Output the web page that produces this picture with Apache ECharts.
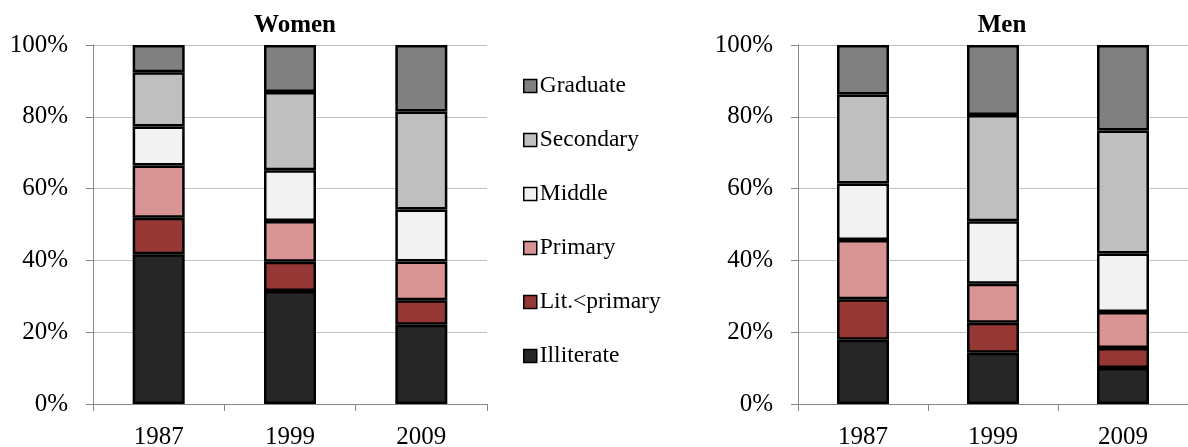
<!DOCTYPE html>
<html>
<head>
<meta charset="utf-8">
<script src="https://cdn.jsdelivr.net/npm/echarts@6/dist/echarts.min.js"></script>
<style>html,body{margin:0;padding:0;background:#fff}#c{width:1188px;height:447px}</style>
</head>
<body>
<div id="c"></div>
<script>
var years = ['1987', '1999', '2009'];
var seriesNames = ['Illiterate', 'Lit.<primary', 'Primary', 'Middle', 'Secondary', 'Graduate'];
var legendOrder = ['Graduate', 'Secondary', 'Middle', 'Primary', 'Lit.<primary', 'Illiterate'];
var colors = ['#262626', '#953735', '#d99594', '#f2f2f2', '#bfbfbf', '#808080'];
var yTicks = [0, 20, 40, 60, 80, 100];

// Women shares (%), per level, for 1987, 1999, 2009
var womenIlliterate = [41.7, 31.5, 22.1];
var womenLitPrimary = [10.2, 8.1, 6.8];
var womenPrimary = [14.5, 11.4, 10.8];
var womenMiddle = [10.9, 14.1, 14.5];
var womenSecondary = [15.1, 21.8, 27.3];
var womenGraduate = [7.6, 13.1, 18.5];

// Men shares (%)
var menIlliterate = [17.9, 14.3, 10.0];
var menLitPrimary = [11.3, 8.3, 5.6];
var menPrimary = [16.5, 10.9, 10.0];
var menMiddle = [15.7, 17.4, 16.3];
var menSecondary = [24.8, 29.6, 34.3];
var menGraduate = [13.8, 19.5, 23.8];

var womenData = [womenIlliterate, womenLitPrimary, womenPrimary, womenMiddle, womenSecondary, womenGraduate];
var menData = [menIlliterate, menLitPrimary, menPrimary, menMiddle, menSecondary, menGraduate];

var FONT = '"Liberation Serif", "Times New Roman", serif';

function xAxis(gi) {
  return {
    type: 'category', gridIndex: gi, data: years, boundaryGap: true,
    axisLine: { show: true, lineStyle: { color: '#868686', width: 1 } },
    axisTick: { show: true, alignWithLabel: false, length: 7, inside: false, lineStyle: { color: '#868686' } },
    axisLabel: { color: '#000', fontFamily: FONT, fontSize: 25, margin: 21 },
    splitLine: { show: false }
  };
}
function yAxis(gi) {
  return {
    type: 'value', gridIndex: gi, min: yTicks[0], max: yTicks[yTicks.length - 1], interval: 20,
    axisLine: { show: true, lineStyle: { color: '#868686', width: 1 } },
    axisTick: { show: true, length: 7, lineStyle: { color: '#868686' } },
    axisLabel: { color: '#000', fontFamily: FONT, fontSize: 25, margin: 25, formatter: '{value}%' },
    splitLine: { show: true, lineStyle: { color: '#c0c0c0', width: 1 } }
  };
}

var series = [];
[womenData, menData].forEach(function (set, gi) {
  set.forEach(function (vals, i) {
    series.push({
      type: 'bar', name: seriesNames[i], xAxisIndex: gi, yAxisIndex: gi,
      stack: 'g' + gi, data: vals, barWidth: 52,
      itemStyle: { color: colors[i], borderColor: '#000', borderWidth: 2.5 },
      emphasis: { disabled: true }
    });
  });
});

var chart = echarts.init(document.getElementById('c'), null, { renderer: 'canvas' });
chart.setOption({
  animation: false,
  backgroundColor: '#fff',
  title: [
    { text: 'Women', left: 290, top: 8, textAlign: 'center',
      textStyle: { fontFamily: FONT, fontSize: 25, fontWeight: 'bold', color: '#000' } },
    { text: 'Men', left: 997, top: 8, textAlign: 'center',
      textStyle: { fontFamily: FONT, fontSize: 25, fontWeight: 'bold', color: '#000' } }
  ],
  legend: {
    orient: 'vertical', left: 518, top: 69, data: legendOrder,
    itemWidth: 13, itemHeight: 13, itemGap: 30, icon: 'rect',
    textStyle: { fontFamily: FONT, fontSize: 23.5, color: '#000', lineHeight: 24, padding: [0, 0, 0, -2] },
    itemStyle: { borderColor: '#000', borderWidth: 1.5 },
    selectedMode: false
  },
  grid: [
    { left: 93, right: 701, top: 45, bottom: 43, containLabel: false, outerBoundsMode: 'none' },
    { left: 798, right: 0, top: 45, bottom: 43, containLabel: false, outerBoundsMode: 'none' }
  ],
  xAxis: [xAxis(0), xAxis(1)],
  yAxis: [yAxis(0), yAxis(1)],
  series: series
});
</script>
</body>
</html>
